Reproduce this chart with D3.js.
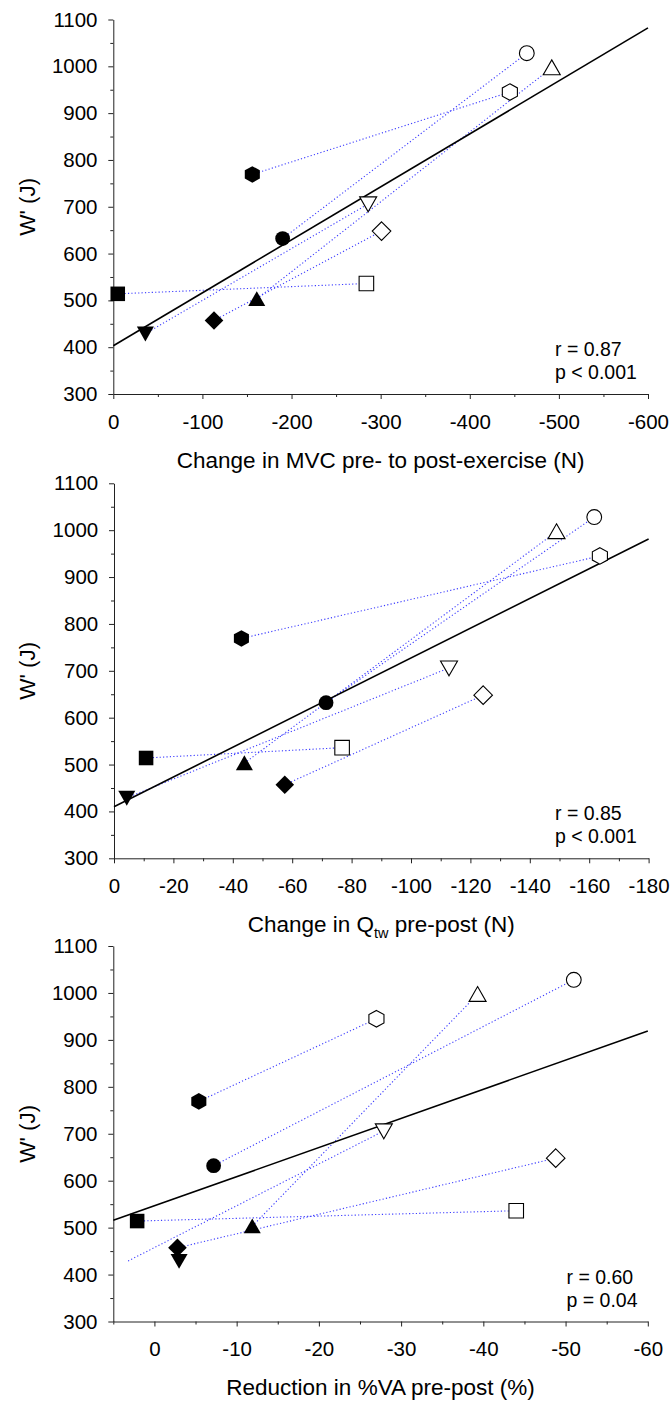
<!DOCTYPE html>
<html>
<head>
<meta charset="utf-8">
<script src="https://cdn.jsdelivr.net/npm/d3@7"></script>
<style>
  html, body { margin: 0; padding: 0; background: #fff; }
  svg { display: block; font-family: "Liberation Sans", Arial, sans-serif; }
</style>
</head>
<body>
<svg id="chart" width="670" height="1402"></svg>
<script>
// ---------------- DATA ----------------
// six subjects pairs: filled marker (one group) and open marker (other group)
const shapes = ["circle", "hexagon", "square", "triangleUp", "triangleDown", "diamond"];

// W' (J)
const wFilled = [632, 769, 514, 503, 429, 457];
const wOpen   = [1028, 945, 536, 997, 706, 648];

// Panel 1: change in MVC pre- to post-exercise (N)
const mvcFilled = [-190, -156, -5, -161, -36, -113];
const mvcOpen   = [-464, -445, -284, -492, -286, -301];

// Panel 2: change in Qtw pre-post (N)
const qtwFilled = [-71.4, -42.9, -10.8, -43.9, -4.3, -57.5];
const qtwOpen   = [-161.7, -163.6, -76.8, -149, -112.8, -124.3];

// Panel 3: reduction in %VA pre-post (%)
const vaFilled   = [-7.2, -5.4, 2.1, -11.9, -3.0, -2.8];
const vaOpen     = [-51, -27, -44, -39.3, -27.9, -48.8];
const vaLinkFrom = [-7.2, -5.4, 2.1, -11.9, 3.2, -2.8]; // connector start as drawn in the original

// regression line end points
const fit1X = [0, -600], fit1Y = [403, 1082];
const fit2X = [0, -180], fit2Y = [410, 981];
const fit3X = [5, -60],  fit3Y = [515.5, 919];

// tick values
const yMajor = [300, 400, 500, 600, 700, 800, 900, 1000, 1100];
const yMinor = [350, 450, 550, 650, 750, 850, 950, 1050];
const x1Major = [0, -100, -200, -300, -400, -500, -600];
const x1Minor = [-50, -150, -250, -350, -450, -550];
const x2Major = [0, -20, -40, -60, -80, -100, -120, -140, -160, -180];
const x2Minor = [-10, -30, -50, -70, -90, -110, -130, -150, -170];
const x3Major = [0, -10, -20, -30, -40, -50, -60];
const x3Minor = [5, -5, -15, -25, -35, -45, -55];

const stats1 = ["r = 0.87", "p < 0.001"];
const stats2 = ["r = 0.85", "p < 0.001"];
const stats3 = ["r = 0.60", "p = 0.04"];

// ---------------- LAYOUT ----------------
const panels = [
  { xDomain: [0, -600], xRange: [113.3, 648], yRange: [394, 19.5],
    xMajor: x1Major, xMinor: x1Minor, xf: mvcFilled, xo: mvcOpen, xl: mvcFilled,
    fitX: fit1X, fitY: fit1Y, stats: stats1, statsX: 555, title: "mvc" },
  { xDomain: [0, -180], xRange: [114, 648.6], yRange: [858.3, 483.3],
    xMajor: x2Major, xMinor: x2Minor, xf: qtwFilled, xo: qtwOpen, xl: qtwFilled,
    fitX: fit2X, fitY: fit2Y, stats: stats2, statsX: 555, title: "qtw" },
  { xDomain: [5, -60], xRange: [113.3, 647.8], yRange: [1321.5, 946],
    xMajor: x3Major, xMinor: x3Minor, xf: vaFilled, xo: vaOpen, xl: vaLinkFrom,
    fitX: fit3X, fitY: fit3Y, stats: stats3, statsX: 566.5, title: "va" }
];

const svg = d3.select("#chart");
const axisColor = "#222";
const tickFont = 20.5;
const titleFont = 22.5;
const mk = 1.12; // marker scale

function shapePath(shape) {
  const p = d3.path();
  if (shape === "circle") {
    p.arc(0, 0, 6.6 * mk, 0, 2 * Math.PI);
  } else if (shape === "square") {
    p.rect(-6.5 * mk, -6.5 * mk, 13 * mk, 13 * mk);
  } else if (shape === "triangleUp") {
    p.moveTo(0, -7 * mk); p.lineTo(7.6 * mk, 6.3 * mk); p.lineTo(-7.6 * mk, 6.3 * mk); p.closePath();
  } else if (shape === "triangleDown") {
    p.moveTo(0, 7 * mk); p.lineTo(7.6 * mk, -6.3 * mk); p.lineTo(-7.6 * mk, -6.3 * mk); p.closePath();
  } else if (shape === "diamond") {
    p.moveTo(0, -8.3 * mk); p.lineTo(8.3 * mk, 0); p.lineTo(0, 8.3 * mk); p.lineTo(-8.3 * mk, 0); p.closePath();
  } else if (shape === "hexagon") {
    const r = 7.4 * mk;
    for (let i = 0; i < 6; i++) {
      const a = -Math.PI / 2 + i * Math.PI / 3;
      const px = r * Math.cos(a) * 1.05, py = r * Math.sin(a);
      if (i === 0) p.moveTo(px, py); else p.lineTo(px, py);
    }
    p.closePath();
  }
  return p.toString();
}

panels.forEach((cfg, idx) => {
  const x = d3.scaleLinear().domain(cfg.xDomain).range(cfg.xRange);
  const y = d3.scaleLinear().domain([300, 1100]).range(cfg.yRange);
  const g = svg.append("g");
  const y0 = cfg.yRange[0];
  const x0 = cfg.xRange[0];

  // Y axis: minor ticks
  g.append("g").attr("transform", `translate(${x0},0)`)
    .call(d3.axisLeft(y).tickValues(yMinor).tickSize(3).tickFormat(""))
    .call(s => s.select(".domain").remove())
    .call(s => s.selectAll("line").attr("stroke", axisColor));
  // Y axis: major ticks
  g.append("g").attr("transform", `translate(${x0},0)`)
    .call(d3.axisLeft(y).tickValues(yMajor).tickSize(5).tickSizeOuter(0).tickPadding(10.8).tickFormat(d3.format("d")))
    .call(s => s.select(".domain").attr("stroke", axisColor))
    .call(s => s.selectAll("line").attr("stroke", axisColor))
    .call(s => s.selectAll("text").attr("font-size", tickFont).attr("fill", "#000")
      .attr("font-family", "'Liberation Sans', Arial, sans-serif"));

  // X axis: minor ticks
  g.append("g").attr("transform", `translate(0,${y0})`)
    .call(d3.axisBottom(x).tickValues(cfg.xMinor).tickSize(3).tickFormat(""))
    .call(s => s.select(".domain").remove())
    .call(s => s.selectAll("line").attr("stroke", axisColor));
  // X axis: major ticks
  g.append("g").attr("transform", `translate(0,${y0})`)
    .call(d3.axisBottom(x).tickValues(cfg.xMajor).tickSize(5).tickSizeOuter(0).tickPadding(15.4)
      .tickFormat(d => d === 0 ? "0" : String(d).replace("\u2212", "-")))
    .call(s => s.select(".domain").attr("stroke", axisColor))
    .call(s => s.selectAll("line").attr("stroke", axisColor))
    .call(s => s.selectAll("text").attr("font-size", tickFont).attr("fill", "#000")
      .attr("font-family", "'Liberation Sans', Arial, sans-serif"));

  // Y title
  const yMid = (cfg.yRange[0] + cfg.yRange[1]) / 2;
  g.append("text")
    .attr("transform", `translate(35,${yMid}) rotate(-90)`)
    .attr("text-anchor", "middle")
    .attr("font-size", titleFont)
    .text("W' (J)");

  // X title
  const xMid = (cfg.xRange[0] + cfg.xRange[1]) / 2;
  const xt = g.append("text")
    .attr("x", xMid).attr("y", y0 + 73.5)
    .attr("text-anchor", "middle")
    .attr("font-size", titleFont);
  if (cfg.title === "mvc") {
    xt.text("Change in MVC pre- to post-exercise (N)");
  } else if (cfg.title === "qtw") {
    xt.append("tspan").text("Change in Q");
    xt.append("tspan").attr("font-size", 14.5).attr("dy", 6).text("tw");
    xt.append("tspan").attr("dy", -6).text(" pre-post (N)");
  } else {
    xt.text("Reduction in %VA pre-post (%)");
  }

  // connector dotted lines
  g.append("g").selectAll("line")
    .data(shapes.map((s, i) => i))
    .join("line")
    .attr("x1", i => x(cfg.xl[i])).attr("y1", i => y(wFilled[i]))
    .attr("x2", i => x(cfg.xo[i])).attr("y2", i => y(wOpen[i]))
    .attr("stroke", "#3c3cff")
    .attr("stroke-width", 1.1)
    .attr("stroke-dasharray", "1.2,2.2");

  // regression line
  g.append("line")
    .attr("x1", x(cfg.fitX[0])).attr("y1", y(cfg.fitY[0]))
    .attr("x2", x(cfg.fitX[1])).attr("y2", y(cfg.fitY[1]))
    .attr("stroke", "#000").attr("stroke-width", 1.6);

  // markers: filled
  g.append("g").selectAll("path")
    .data(shapes.map((s, i) => i))
    .join("path")
    .attr("transform", i => `translate(${x(cfg.xf[i])},${y(wFilled[i])})`)
    .attr("d", i => shapePath(shapes[i]))
    .attr("fill", "#000");
  // markers: open
  g.append("g").selectAll("path")
    .data(shapes.map((s, i) => i))
    .join("path")
    .attr("transform", i => `translate(${x(cfg.xo[i])},${y(wOpen[i])})`)
    .attr("d", i => shapePath(shapes[i]))
    .attr("fill", "#fff").attr("stroke", "#000").attr("stroke-width", 1.1);

  // stats text
  const st = g.append("text").attr("font-size", 19.5);
  st.append("tspan").attr("x", cfg.statsX).attr("y", y0 - 38).text(cfg.stats[0]);
  st.append("tspan").attr("x", cfg.statsX).attr("y", y0 - 15).text(cfg.stats[1]);
});
</script>
</body>
</html>
